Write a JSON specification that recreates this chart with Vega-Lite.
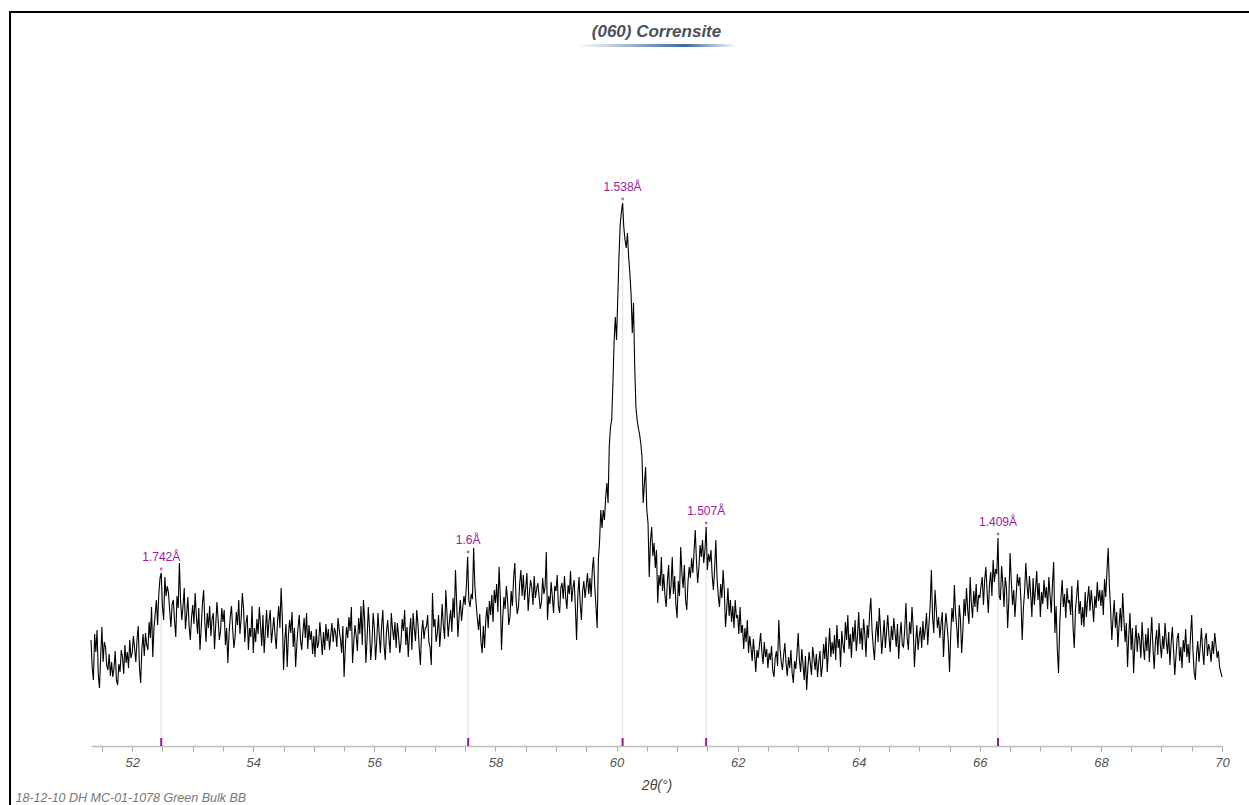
{
"$schema": "https://vega.github.io/schema/vega-lite/v6.json",
"autosize": {"type": "none"},
"width": 1249,
"height": 803,
"padding": {"left": 10, "top": 12, "right": -10, "bottom": -10},
"background": "white",
"config": {"view": {"stroke": "#000", "strokeWidth": 2}, "font": "Liberation Sans"},
"title": {"text": "(060) Corrensite", "font": "Liberation Sans", "fontSize": 17, "fontStyle": "italic", "fontWeight": "bold", "color": "#4a5160", "anchor": "middle", "frame": "group", "offset": -29, "dx": 22},
"datasets": {
"scan": [
{"t":51.32,"i":106},{"t":51.34,"i":78},{"t":51.36,"i":66},{"t":51.38,"i":112},{"t":51.40,"i":94},{"t":51.42,"i":116},{"t":51.44,"i":72},{"t":51.46,"i":58},{"t":51.48,"i":90},{"t":51.50,"i":119},{"t":51.52,"i":84},{"t":51.54,"i":104},{"t":51.56,"i":99},{"t":51.58,"i":80},{"t":51.60,"i":76},{"t":51.62,"i":92},{"t":51.64,"i":70},{"t":51.66,"i":84},{"t":51.68,"i":69},{"t":51.70,"i":78},{"t":51.72,"i":95},{"t":51.74,"i":66},{"t":51.76,"i":61},{"t":51.78,"i":82},{"t":51.80,"i":74},{"t":51.82,"i":96},{"t":51.84,"i":89},{"t":51.86,"i":72},{"t":51.88,"i":101},{"t":51.90,"i":83},{"t":51.92,"i":94},{"t":51.94,"i":78},{"t":51.96,"i":106},{"t":51.98,"i":88},
{"t":52.00,"i":93},{"t":52.02,"i":110},{"t":52.04,"i":98},{"t":52.06,"i":84},{"t":52.08,"i":106},{"t":52.10,"i":120},{"t":52.12,"i":79},{"t":52.14,"i":63},{"t":52.16,"i":97},{"t":52.18,"i":112},{"t":52.20,"i":90},{"t":52.22,"i":113},{"t":52.24,"i":101},{"t":52.26,"i":96},{"t":52.28,"i":124},{"t":52.30,"i":108},{"t":52.32,"i":139},{"t":52.34,"i":89},{"t":52.36,"i":118},{"t":52.38,"i":132},{"t":52.40,"i":146},{"t":52.42,"i":121},{"t":52.44,"i":152},{"t":52.46,"i":168},{"t":52.48,"i":173},{"t":52.50,"i":140},{"t":52.52,"i":126},{"t":52.54,"i":169},{"t":52.56,"i":150},{"t":52.58,"i":160},{"t":52.60,"i":153},{"t":52.62,"i":135},{"t":52.64,"i":119},{"t":52.66,"i":142},{"t":52.68,"i":146},{"t":52.70,"i":125},{"t":52.72,"i":109},{"t":52.74,"i":150},{"t":52.76,"i":138},{"t":52.78,"i":183},{"t":52.80,"i":145},{"t":52.82,"i":126},{"t":52.84,"i":140},{"t":52.86,"i":158},{"t":52.88,"i":117},{"t":52.90,"i":132},{"t":52.92,"i":149},{"t":52.94,"i":120},{"t":52.96,"i":106},{"t":52.98,"i":128},
{"t":53.00,"i":141},{"t":53.02,"i":122},{"t":53.04,"i":153},{"t":53.06,"i":130},{"t":53.08,"i":112},{"t":53.10,"i":138},{"t":53.12,"i":96},{"t":53.14,"i":118},{"t":53.16,"i":142},{"t":53.18,"i":156},{"t":53.20,"i":124},{"t":53.22,"i":104},{"t":53.24,"i":133},{"t":53.26,"i":118},{"t":53.28,"i":140},{"t":53.30,"i":110},{"t":53.32,"i":127},{"t":53.34,"i":133},{"t":53.36,"i":97},{"t":53.38,"i":121},{"t":53.40,"i":144},{"t":53.42,"i":126},{"t":53.44,"i":106},{"t":53.46,"i":115},{"t":53.48,"i":138},{"t":53.50,"i":124},{"t":53.52,"i":136},{"t":53.54,"i":101},{"t":53.56,"i":118},{"t":53.58,"i":83},{"t":53.60,"i":112},{"t":53.62,"i":129},{"t":53.64,"i":140},{"t":53.66,"i":117},{"t":53.68,"i":98},{"t":53.70,"i":109},{"t":53.72,"i":134},{"t":53.74,"i":121},{"t":53.76,"i":146},{"t":53.78,"i":112},{"t":53.80,"i":128},{"t":53.82,"i":153},{"t":53.84,"i":137},{"t":53.86,"i":104},{"t":53.88,"i":123},{"t":53.90,"i":131},{"t":53.92,"i":96},{"t":53.94,"i":118},{"t":53.96,"i":109},{"t":53.98,"i":140},
{"t":54.00,"i":93},{"t":54.02,"i":118},{"t":54.04,"i":104},{"t":54.06,"i":127},{"t":54.08,"i":112},{"t":54.10,"i":139},{"t":54.12,"i":121},{"t":54.14,"i":100},{"t":54.16,"i":131},{"t":54.18,"i":93},{"t":54.20,"i":115},{"t":54.22,"i":136},{"t":54.24,"i":108},{"t":54.26,"i":125},{"t":54.28,"i":136},{"t":54.30,"i":103},{"t":54.32,"i":116},{"t":54.34,"i":129},{"t":54.36,"i":111},{"t":54.38,"i":97},{"t":54.40,"i":124},{"t":54.42,"i":140},{"t":54.44,"i":118},{"t":54.46,"i":158},{"t":54.48,"i":128},{"t":54.50,"i":76},{"t":54.52,"i":105},{"t":54.54,"i":122},{"t":54.56,"i":79},{"t":54.58,"i":110},{"t":54.60,"i":126},{"t":54.62,"i":113},{"t":54.64,"i":134},{"t":54.66,"i":99},{"t":54.68,"i":118},{"t":54.70,"i":79},{"t":54.72,"i":102},{"t":54.74,"i":119},{"t":54.76,"i":131},{"t":54.78,"i":106},{"t":54.80,"i":96},{"t":54.82,"i":114},{"t":54.84,"i":128},{"t":54.86,"i":108},{"t":54.88,"i":133},{"t":54.90,"i":97},{"t":54.92,"i":121},{"t":54.94,"i":106},{"t":54.96,"i":115},{"t":54.98,"i":92},
{"t":55.00,"i":110},{"t":55.02,"i":89},{"t":55.04,"i":117},{"t":55.06,"i":98},{"t":55.08,"i":103},{"t":55.10,"i":124},{"t":55.12,"i":108},{"t":55.14,"i":91},{"t":55.16,"i":114},{"t":55.18,"i":96},{"t":55.20,"i":122},{"t":55.22,"i":105},{"t":55.24,"i":117},{"t":55.26,"i":96},{"t":55.28,"i":111},{"t":55.30,"i":123},{"t":55.32,"i":104},{"t":55.34,"i":118},{"t":55.36,"i":113},{"t":55.38,"i":99},{"t":55.40,"i":128},{"t":55.42,"i":116},{"t":55.44,"i":107},{"t":55.46,"i":93},{"t":55.48,"i":120},{"t":55.50,"i":69},{"t":55.52,"i":98},{"t":55.54,"i":119},{"t":55.56,"i":108},{"t":55.58,"i":129},{"t":55.60,"i":115},{"t":55.62,"i":139},{"t":55.64,"i":83},{"t":55.66,"i":104},{"t":55.68,"i":121},{"t":55.70,"i":110},{"t":55.72,"i":95},{"t":55.74,"i":128},{"t":55.76,"i":112},{"t":55.78,"i":140},{"t":55.80,"i":101},{"t":55.82,"i":146},{"t":55.84,"i":126},{"t":55.86,"i":83},{"t":55.88,"i":107},{"t":55.90,"i":139},{"t":55.92,"i":118},{"t":55.94,"i":86},{"t":55.96,"i":102},{"t":55.98,"i":133},
{"t":56.00,"i":118},{"t":56.02,"i":86},{"t":56.04,"i":105},{"t":56.06,"i":133},{"t":56.08,"i":112},{"t":56.10,"i":93},{"t":56.12,"i":120},{"t":56.14,"i":136},{"t":56.16,"i":101},{"t":56.18,"i":86},{"t":56.20,"i":114},{"t":56.22,"i":126},{"t":56.24,"i":108},{"t":56.26,"i":93},{"t":56.28,"i":133},{"t":56.30,"i":117},{"t":56.32,"i":106},{"t":56.34,"i":124},{"t":56.36,"i":98},{"t":56.38,"i":123},{"t":56.40,"i":110},{"t":56.42,"i":93},{"t":56.44,"i":104},{"t":56.46,"i":127},{"t":56.48,"i":115},{"t":56.50,"i":136},{"t":56.52,"i":101},{"t":56.54,"i":119},{"t":56.56,"i":89},{"t":56.58,"i":112},{"t":56.60,"i":128},{"t":56.62,"i":96},{"t":56.64,"i":133},{"t":56.66,"i":117},{"t":56.68,"i":105},{"t":56.70,"i":136},{"t":56.72,"i":122},{"t":56.74,"i":99},{"t":56.76,"i":81},{"t":56.78,"i":113},{"t":56.80,"i":126},{"t":56.82,"i":107},{"t":56.84,"i":118},{"t":56.86,"i":119},{"t":56.88,"i":131},{"t":56.90,"i":104},{"t":56.92,"i":99},{"t":56.94,"i":81},{"t":56.96,"i":153},{"t":56.98,"i":119},
{"t":57.00,"i":127},{"t":57.02,"i":104},{"t":57.04,"i":113},{"t":57.06,"i":131},{"t":57.08,"i":99},{"t":57.10,"i":118},{"t":57.12,"i":142},{"t":57.14,"i":120},{"t":57.16,"i":107},{"t":57.18,"i":156},{"t":57.20,"i":132},{"t":57.22,"i":109},{"t":57.24,"i":125},{"t":57.26,"i":136},{"t":57.28,"i":114},{"t":57.30,"i":148},{"t":57.32,"i":128},{"t":57.34,"i":176},{"t":57.36,"i":142},{"t":57.38,"i":109},{"t":57.40,"i":131},{"t":57.42,"i":146},{"t":57.44,"i":125},{"t":57.46,"i":138},{"t":57.48,"i":150},{"t":57.50,"i":141},{"t":57.52,"i":160},{"t":57.54,"i":189},{"t":57.56,"i":146},{"t":57.58,"i":139},{"t":57.60,"i":152},{"t":57.62,"i":147},{"t":57.64,"i":198},{"t":57.66,"i":160},{"t":57.68,"i":143},{"t":57.70,"i":128},{"t":57.72,"i":116},{"t":57.74,"i":132},{"t":57.76,"i":105},{"t":57.78,"i":93},{"t":57.80,"i":120},{"t":57.82,"i":98},{"t":57.84,"i":126},{"t":57.86,"i":139},{"t":57.88,"i":118},{"t":57.90,"i":145},{"t":57.92,"i":131},{"t":57.94,"i":151},{"t":57.96,"i":124},{"t":57.98,"i":156},
{"t":58.00,"i":143},{"t":58.02,"i":162},{"t":58.04,"i":134},{"t":58.06,"i":179},{"t":58.08,"i":150},{"t":58.10,"i":96},{"t":58.12,"i":128},{"t":58.14,"i":149},{"t":58.16,"i":137},{"t":58.18,"i":160},{"t":58.20,"i":146},{"t":58.22,"i":121},{"t":58.24,"i":129},{"t":58.26,"i":155},{"t":58.28,"i":140},{"t":58.30,"i":168},{"t":58.32,"i":183},{"t":58.34,"i":147},{"t":58.36,"i":132},{"t":58.38,"i":139},{"t":58.40,"i":162},{"t":58.42,"i":176},{"t":58.44,"i":150},{"t":58.46,"i":171},{"t":58.48,"i":146},{"t":58.50,"i":158},{"t":58.52,"i":173},{"t":58.54,"i":135},{"t":58.56,"i":152},{"t":58.58,"i":166},{"t":58.60,"i":159},{"t":58.62,"i":141},{"t":58.64,"i":170},{"t":58.66,"i":148},{"t":58.68,"i":157},{"t":58.70,"i":163},{"t":58.72,"i":150},{"t":58.74,"i":137},{"t":58.76,"i":144},{"t":58.78,"i":168},{"t":58.80,"i":152},{"t":58.82,"i":159},{"t":58.84,"i":194},{"t":58.86,"i":126},{"t":58.88,"i":150},{"t":58.90,"i":142},{"t":58.92,"i":164},{"t":58.94,"i":149},{"t":58.96,"i":133},{"t":58.98,"i":160},
{"t":59.00,"i":155},{"t":59.02,"i":171},{"t":59.04,"i":140},{"t":59.06,"i":133},{"t":59.08,"i":158},{"t":59.10,"i":163},{"t":59.12,"i":147},{"t":59.14,"i":170},{"t":59.16,"i":149},{"t":59.18,"i":137},{"t":59.20,"i":161},{"t":59.22,"i":152},{"t":59.24,"i":175},{"t":59.26,"i":144},{"t":59.28,"i":158},{"t":59.30,"i":166},{"t":59.32,"i":139},{"t":59.34,"i":106},{"t":59.36,"i":150},{"t":59.38,"i":169},{"t":59.40,"i":142},{"t":59.42,"i":126},{"t":59.44,"i":155},{"t":59.46,"i":165},{"t":59.48,"i":148},{"t":59.50,"i":160},{"t":59.52,"i":173},{"t":59.54,"i":152},{"t":59.56,"i":168},{"t":59.58,"i":149},{"t":59.60,"i":176},{"t":59.62,"i":189},{"t":59.64,"i":160},{"t":59.66,"i":140},{"t":59.68,"i":118},{"t":59.70,"i":186},{"t":59.72,"i":205},{"t":59.74,"i":236},{"t":59.76,"i":218},{"t":59.78,"i":236},{"t":59.80,"i":226},{"t":59.82,"i":248},{"t":59.84,"i":263},{"t":59.86,"i":243},{"t":59.88,"i":300},{"t":59.90,"i":319},{"t":59.92,"i":326},{"t":59.94,"i":362},{"t":59.96,"i":405},{"t":59.98,"i":429},
{"t":60.00,"i":406},{"t":60.02,"i":447},{"t":60.04,"i":489},{"t":60.06,"i":521},{"t":60.08,"i":534},{"t":60.10,"i":543},{"t":60.12,"i":519},{"t":60.14,"i":506},{"t":60.16,"i":498},{"t":60.18,"i":513},{"t":60.20,"i":489},{"t":60.22,"i":473},{"t":60.24,"i":452},{"t":60.26,"i":413},{"t":60.28,"i":443},{"t":60.30,"i":380},{"t":60.32,"i":339},{"t":60.34,"i":326},{"t":60.36,"i":318},{"t":60.38,"i":312},{"t":60.40,"i":303},{"t":60.42,"i":290},{"t":60.44,"i":243},{"t":60.46,"i":262},{"t":60.48,"i":279},{"t":60.50,"i":236},{"t":60.52,"i":223},{"t":60.54,"i":169},{"t":60.56,"i":205},{"t":60.58,"i":219},{"t":60.60,"i":190},{"t":60.62,"i":203},{"t":60.64,"i":178},{"t":60.66,"i":196},{"t":60.68,"i":143},{"t":60.70,"i":171},{"t":60.72,"i":160},{"t":60.74,"i":189},{"t":60.76,"i":155},{"t":60.78,"i":172},{"t":60.80,"i":150},{"t":60.82,"i":139},{"t":60.84,"i":165},{"t":60.86,"i":181},{"t":60.88,"i":147},{"t":60.90,"i":160},{"t":60.92,"i":189},{"t":60.94,"i":152},{"t":60.96,"i":170},{"t":60.98,"i":142},
{"t":61.00,"i":128},{"t":61.02,"i":165},{"t":61.04,"i":150},{"t":61.06,"i":199},{"t":61.08,"i":172},{"t":61.10,"i":158},{"t":61.12,"i":181},{"t":61.14,"i":146},{"t":61.16,"i":136},{"t":61.18,"i":164},{"t":61.20,"i":179},{"t":61.22,"i":168},{"t":61.24,"i":188},{"t":61.26,"i":173},{"t":61.28,"i":194},{"t":61.30,"i":216},{"t":61.32,"i":185},{"t":61.34,"i":163},{"t":61.36,"i":178},{"t":61.38,"i":201},{"t":61.40,"i":189},{"t":61.42,"i":206},{"t":61.44,"i":183},{"t":61.46,"i":196},{"t":61.48,"i":219},{"t":61.50,"i":176},{"t":61.52,"i":192},{"t":61.54,"i":184},{"t":61.56,"i":196},{"t":61.58,"i":170},{"t":61.60,"i":156},{"t":61.62,"i":177},{"t":61.64,"i":206},{"t":61.66,"i":168},{"t":61.68,"i":150},{"t":61.70,"i":139},{"t":61.72,"i":162},{"t":61.74,"i":148},{"t":61.76,"i":176},{"t":61.78,"i":155},{"t":61.80,"i":119},{"t":61.82,"i":137},{"t":61.84,"i":158},{"t":61.86,"i":130},{"t":61.88,"i":146},{"t":61.90,"i":124},{"t":61.92,"i":140},{"t":61.94,"i":118},{"t":61.96,"i":146},{"t":61.98,"i":128},
{"t":62.00,"i":131},{"t":62.02,"i":112},{"t":62.04,"i":139},{"t":62.06,"i":113},{"t":62.08,"i":121},{"t":62.10,"i":97},{"t":62.12,"i":118},{"t":62.14,"i":104},{"t":62.16,"i":126},{"t":62.18,"i":93},{"t":62.20,"i":110},{"t":62.22,"i":99},{"t":62.24,"i":85},{"t":62.26,"i":107},{"t":62.28,"i":92},{"t":62.30,"i":74},{"t":62.32,"i":96},{"t":62.34,"i":88},{"t":62.36,"i":101},{"t":62.38,"i":113},{"t":62.40,"i":94},{"t":62.42,"i":82},{"t":62.44,"i":104},{"t":62.46,"i":89},{"t":62.48,"i":97},{"t":62.50,"i":78},{"t":62.52,"i":93},{"t":62.54,"i":86},{"t":62.56,"i":100},{"t":62.58,"i":75},{"t":62.60,"i":69},{"t":62.62,"i":88},{"t":62.64,"i":95},{"t":62.66,"i":80},{"t":62.68,"i":126},{"t":62.70,"i":98},{"t":62.72,"i":84},{"t":62.74,"i":76},{"t":62.76,"i":91},{"t":62.78,"i":103},{"t":62.80,"i":82},{"t":62.82,"i":70},{"t":62.84,"i":89},{"t":62.86,"i":78},{"t":62.88,"i":96},{"t":62.90,"i":73},{"t":62.92,"i":63},{"t":62.94,"i":85},{"t":62.96,"i":77},{"t":62.98,"i":92},
{"t":63.00,"i":113},{"t":63.02,"i":86},{"t":63.04,"i":74},{"t":63.06,"i":97},{"t":63.08,"i":81},{"t":63.10,"i":66},{"t":63.12,"i":90},{"t":63.14,"i":56},{"t":63.16,"i":78},{"t":63.18,"i":94},{"t":63.20,"i":83},{"t":63.22,"i":71},{"t":63.24,"i":99},{"t":63.26,"i":88},{"t":63.28,"i":76},{"t":63.30,"i":92},{"t":63.32,"i":69},{"t":63.34,"i":84},{"t":63.36,"i":95},{"t":63.38,"i":69},{"t":63.40,"i":80},{"t":63.42,"i":102},{"t":63.44,"i":87},{"t":63.46,"i":109},{"t":63.48,"i":74},{"t":63.50,"i":96},{"t":63.52,"i":118},{"t":63.54,"i":89},{"t":63.56,"i":104},{"t":63.58,"i":92},{"t":63.60,"i":111},{"t":63.62,"i":86},{"t":63.64,"i":121},{"t":63.66,"i":98},{"t":63.68,"i":107},{"t":63.70,"i":79},{"t":63.72,"i":115},{"t":63.74,"i":101},{"t":63.76,"i":93},{"t":63.78,"i":124},{"t":63.80,"i":106},{"t":63.82,"i":131},{"t":63.84,"i":97},{"t":63.86,"i":112},{"t":63.88,"i":88},{"t":63.90,"i":119},{"t":63.92,"i":104},{"t":63.94,"i":126},{"t":63.96,"i":95},{"t":63.98,"i":110},
{"t":64.00,"i":134},{"t":64.02,"i":102},{"t":64.04,"i":118},{"t":64.06,"i":96},{"t":64.08,"i":127},{"t":64.10,"i":112},{"t":64.12,"i":89},{"t":64.14,"i":121},{"t":64.16,"i":108},{"t":64.18,"i":133},{"t":64.20,"i":148},{"t":64.22,"i":116},{"t":64.24,"i":99},{"t":64.26,"i":86},{"t":64.28,"i":112},{"t":64.30,"i":125},{"t":64.32,"i":104},{"t":64.34,"i":138},{"t":64.36,"i":117},{"t":64.38,"i":92},{"t":64.40,"i":109},{"t":64.42,"i":126},{"t":64.44,"i":98},{"t":64.46,"i":115},{"t":64.48,"i":131},{"t":64.50,"i":109},{"t":64.52,"i":94},{"t":64.54,"i":120},{"t":64.56,"i":106},{"t":64.58,"i":128},{"t":64.60,"i":113},{"t":64.62,"i":99},{"t":64.64,"i":122},{"t":64.66,"i":87},{"t":64.68,"i":110},{"t":64.70,"i":124},{"t":64.72,"i":101},{"t":64.74,"i":99},{"t":64.76,"i":117},{"t":64.78,"i":143},{"t":64.80,"i":108},{"t":64.82,"i":96},{"t":64.84,"i":124},{"t":64.86,"i":112},{"t":64.88,"i":139},{"t":64.90,"i":118},{"t":64.92,"i":79},{"t":64.94,"i":103},{"t":64.96,"i":121},{"t":64.98,"i":96},
{"t":65.00,"i":110},{"t":65.02,"i":119},{"t":65.04,"i":98},{"t":65.06,"i":125},{"t":65.08,"i":106},{"t":65.10,"i":117},{"t":65.12,"i":133},{"t":65.14,"i":101},{"t":65.16,"i":122},{"t":65.18,"i":140},{"t":65.20,"i":176},{"t":65.22,"i":128},{"t":65.24,"i":113},{"t":65.26,"i":156},{"t":65.28,"i":137},{"t":65.30,"i":118},{"t":65.32,"i":129},{"t":65.34,"i":108},{"t":65.36,"i":122},{"t":65.38,"i":134},{"t":65.40,"i":89},{"t":65.42,"i":116},{"t":65.44,"i":133},{"t":65.46,"i":120},{"t":65.48,"i":104},{"t":65.50,"i":74},{"t":65.52,"i":112},{"t":65.54,"i":138},{"t":65.56,"i":124},{"t":65.58,"i":161},{"t":65.60,"i":132},{"t":65.62,"i":118},{"t":65.64,"i":98},{"t":65.66,"i":141},{"t":65.68,"i":127},{"t":65.70,"i":93},{"t":65.72,"i":115},{"t":65.74,"i":147},{"t":65.76,"i":130},{"t":65.78,"i":158},{"t":65.80,"i":136},{"t":65.82,"i":122},{"t":65.84,"i":169},{"t":65.86,"i":143},{"t":65.88,"i":128},{"t":65.90,"i":155},{"t":65.92,"i":139},{"t":65.94,"i":162},{"t":65.96,"i":134},{"t":65.98,"i":151},
{"t":66.00,"i":148},{"t":66.02,"i":160},{"t":66.04,"i":169},{"t":66.06,"i":141},{"t":66.08,"i":166},{"t":66.10,"i":179},{"t":66.12,"i":155},{"t":66.14,"i":133},{"t":66.16,"i":162},{"t":66.18,"i":174},{"t":66.20,"i":150},{"t":66.22,"i":186},{"t":66.24,"i":164},{"t":66.26,"i":177},{"t":66.28,"i":172},{"t":66.30,"i":208},{"t":66.32,"i":150},{"t":66.34,"i":146},{"t":66.36,"i":180},{"t":66.38,"i":162},{"t":66.40,"i":139},{"t":66.42,"i":169},{"t":66.44,"i":158},{"t":66.46,"i":118},{"t":66.48,"i":147},{"t":66.50,"i":193},{"t":66.52,"i":165},{"t":66.54,"i":141},{"t":66.56,"i":156},{"t":66.58,"i":129},{"t":66.60,"i":150},{"t":66.62,"i":172},{"t":66.64,"i":160},{"t":66.66,"i":169},{"t":66.68,"i":144},{"t":66.70,"i":106},{"t":66.72,"i":138},{"t":66.74,"i":155},{"t":66.76,"i":183},{"t":66.78,"i":161},{"t":66.80,"i":147},{"t":66.82,"i":170},{"t":66.84,"i":152},{"t":66.86,"i":129},{"t":66.88,"i":168},{"t":66.90,"i":141},{"t":66.92,"i":157},{"t":66.94,"i":175},{"t":66.96,"i":146},{"t":66.98,"i":163},
{"t":67.00,"i":129},{"t":67.02,"i":154},{"t":67.04,"i":142},{"t":67.06,"i":166},{"t":67.08,"i":148},{"t":67.10,"i":159},{"t":67.12,"i":137},{"t":67.14,"i":169},{"t":67.16,"i":151},{"t":67.18,"i":133},{"t":67.20,"i":162},{"t":67.22,"i":184},{"t":67.24,"i":113},{"t":67.26,"i":140},{"t":67.28,"i":97},{"t":67.30,"i":73},{"t":67.32,"i":121},{"t":67.34,"i":148},{"t":67.36,"i":166},{"t":67.38,"i":139},{"t":67.40,"i":152},{"t":67.42,"i":128},{"t":67.44,"i":158},{"t":67.46,"i":143},{"t":67.48,"i":146},{"t":67.50,"i":131},{"t":67.52,"i":160},{"t":67.54,"i":118},{"t":67.56,"i":98},{"t":67.58,"i":137},{"t":67.60,"i":150},{"t":67.62,"i":166},{"t":67.64,"i":132},{"t":67.66,"i":145},{"t":67.68,"i":121},{"t":67.70,"i":139},{"t":67.72,"i":119},{"t":67.74,"i":154},{"t":67.76,"i":129},{"t":67.78,"i":147},{"t":67.80,"i":160},{"t":67.82,"i":135},{"t":67.84,"i":156},{"t":67.86,"i":142},{"t":67.88,"i":124},{"t":67.90,"i":150},{"t":67.92,"i":138},{"t":67.94,"i":164},{"t":67.96,"i":145},{"t":67.98,"i":156},
{"t":68.00,"i":140},{"t":68.02,"i":156},{"t":68.04,"i":131},{"t":68.06,"i":167},{"t":68.08,"i":149},{"t":68.10,"i":175},{"t":68.12,"i":198},{"t":68.14,"i":160},{"t":68.16,"i":137},{"t":68.18,"i":106},{"t":68.20,"i":128},{"t":68.22,"i":146},{"t":68.24,"i":118},{"t":68.26,"i":134},{"t":68.28,"i":99},{"t":68.30,"i":121},{"t":68.32,"i":138},{"t":68.34,"i":115},{"t":68.36,"i":153},{"t":68.38,"i":127},{"t":68.40,"i":104},{"t":68.42,"i":123},{"t":68.44,"i":79},{"t":68.46,"i":110},{"t":68.48,"i":133},{"t":68.50,"i":96},{"t":68.52,"i":118},{"t":68.54,"i":73},{"t":68.56,"i":102},{"t":68.58,"i":121},{"t":68.60,"i":94},{"t":68.62,"i":113},{"t":68.64,"i":107},{"t":68.66,"i":88},{"t":68.68,"i":124},{"t":68.70,"i":101},{"t":68.72,"i":86},{"t":68.74,"i":112},{"t":68.76,"i":95},{"t":68.78,"i":118},{"t":68.80,"i":84},{"t":68.82,"i":106},{"t":68.84,"i":129},{"t":68.86,"i":98},{"t":68.88,"i":77},{"t":68.90,"i":104},{"t":68.92,"i":116},{"t":68.94,"i":91},{"t":68.96,"i":123},{"t":68.98,"i":102},
{"t":69.00,"i":88},{"t":69.02,"i":110},{"t":69.04,"i":97},{"t":69.06,"i":123},{"t":69.08,"i":105},{"t":69.10,"i":92},{"t":69.12,"i":114},{"t":69.14,"i":81},{"t":69.16,"i":103},{"t":69.18,"i":119},{"t":69.20,"i":96},{"t":69.22,"i":71},{"t":69.24,"i":90},{"t":69.26,"i":108},{"t":69.28,"i":113},{"t":69.30,"i":85},{"t":69.32,"i":99},{"t":69.34,"i":78},{"t":69.36,"i":106},{"t":69.38,"i":94},{"t":69.40,"i":117},{"t":69.42,"i":89},{"t":69.44,"i":102},{"t":69.46,"i":83},{"t":69.48,"i":110},{"t":69.50,"i":131},{"t":69.52,"i":96},{"t":69.54,"i":74},{"t":69.56,"i":66},{"t":69.58,"i":92},{"t":69.60,"i":105},{"t":69.62,"i":84},{"t":69.64,"i":99},{"t":69.66,"i":118},{"t":69.68,"i":96},{"t":69.70,"i":81},{"t":69.72,"i":107},{"t":69.74,"i":113},{"t":69.76,"i":90},{"t":69.78,"i":102},{"t":69.80,"i":96},{"t":69.82,"i":84},{"t":69.84,"i":105},{"t":69.86,"i":92},{"t":69.88,"i":113},{"t":69.90,"i":101},{"t":69.92,"i":88},{"t":69.94,"i":95},{"t":69.96,"i":79},{"t":69.98,"i":74},{"t":70.00,"i":69}
],
"peaks": [
{"t":52.48,"i":173,"d":"1.742Å"},
{"t":57.55,"i":190,"d":"1.6Å"},
{"t":60.10,"i":543,"d":"1.538Å"},
{"t":61.48,"i":219,"d":"1.507Å"},
{"t":66.30,"i":208,"d":"1.409Å"}
]
},
"data": {"name": "scan"},
"encoding": {
"x": {"field": "t", "type": "quantitative",
 "scale": {"domain": [51.32, 70], "range": [81, 1212], "nice": false, "zero": false},
 "axis": {"title": "2θ(°)", "values": [51.5,52,52.5,53,53.5,54,54.5,55,55.5,56,56.5,57,57.5,58,58.5,59,59.5,60,60.5,61,61.5,62,62.5,63,63.5,64,64.5,65,65.5,66,66.5,67,67.5,68,68.5,69,69.5,70],
  "labelExpr": "datum.value % 2 === 0 ? format(datum.value, 'd') : ''", "labelOverlap": false, "labelFlush": false,
  "grid": false, "offset": -69, "domainColor": "#bdbdbd", "domainWidth": 1.5, "tickColor": "#a8a8a8", "tickSize": 5,
  "labelFont": "Liberation Sans", "labelFontStyle": "italic", "labelFontSize": 13, "labelColor": "#555555", "labelPadding": 5,
  "titleFont": "Liberation Sans", "titleFontStyle": "italic", "titleFontWeight": "normal", "titleFontSize": 14, "titleColor": "#444444", "titlePadding": 9}},
"y": {"field": "i", "type": "quantitative",
 "scale": {"domain": [0, 700], "range": [734, 34], "nice": false, "zero": false},
 "axis": {"title": "18-12-10 DH MC-01-1078 Green Bulk BB", "domain": false, "ticks": false, "labels": false, "grid": false,
  "titleAngle": 0, "titleAlign": "left", "titleBaseline": "middle", "titleX": 5, "titleY": 785,
  "titleFont": "Liberation Sans", "titleFontStyle": "italic", "titleFontWeight": "normal", "titleFontSize": 12.5, "titleColor": "#777777"}}
},
"layer": [
{"data": {"name": "peaks"}, "mark": {"type": "rule", "color": "#e8e8ee", "strokeWidth": 1.5}, "encoding": {"y2": {"datum": 0}}},
{"mark": {"type": "line", "color": "#000000", "strokeWidth": 1.1}},
{"data": {"name": "peaks"}, "mark": {"type": "rule", "color": "#9a1a9a", "strokeWidth": 2}, "encoding": {"y": {"datum": 0}, "y2": {"datum": 8}}},
{"data": {"name": "peaks"}, "mark": {"type": "point", "filled": true, "size": 8, "color": "#c050c0", "opacity": 0.9, "yOffset": -4}},
{"data": {"name": "peaks"}, "mark": {"type": "text", "color": "#9a1a9a", "fontSize": 12, "font": "Liberation Sans", "dy": -16}, "encoding": {"text": {"field": "d", "type": "nominal"}}},
{"data": {"name": "peaks"}, "transform": [{"filter": "datum.d == '1.538Å'"}],
 "mark": {"type": "rect", "color": {"gradient": "linear", "x1": 0, "y1": 0, "x2": 1, "y2": 0, "stops": [{"offset": 0, "color": "#ffffff"}, {"offset": 0.68, "color": "#3a6aa0"}, {"offset": 1, "color": "#ffffff"}]}},
 "encoding": {"x": {"datum": 59.33}, "x2": {"datum": 61.98}, "y": {"datum": 702}, "y2": {"datum": 699}}}
]
}
